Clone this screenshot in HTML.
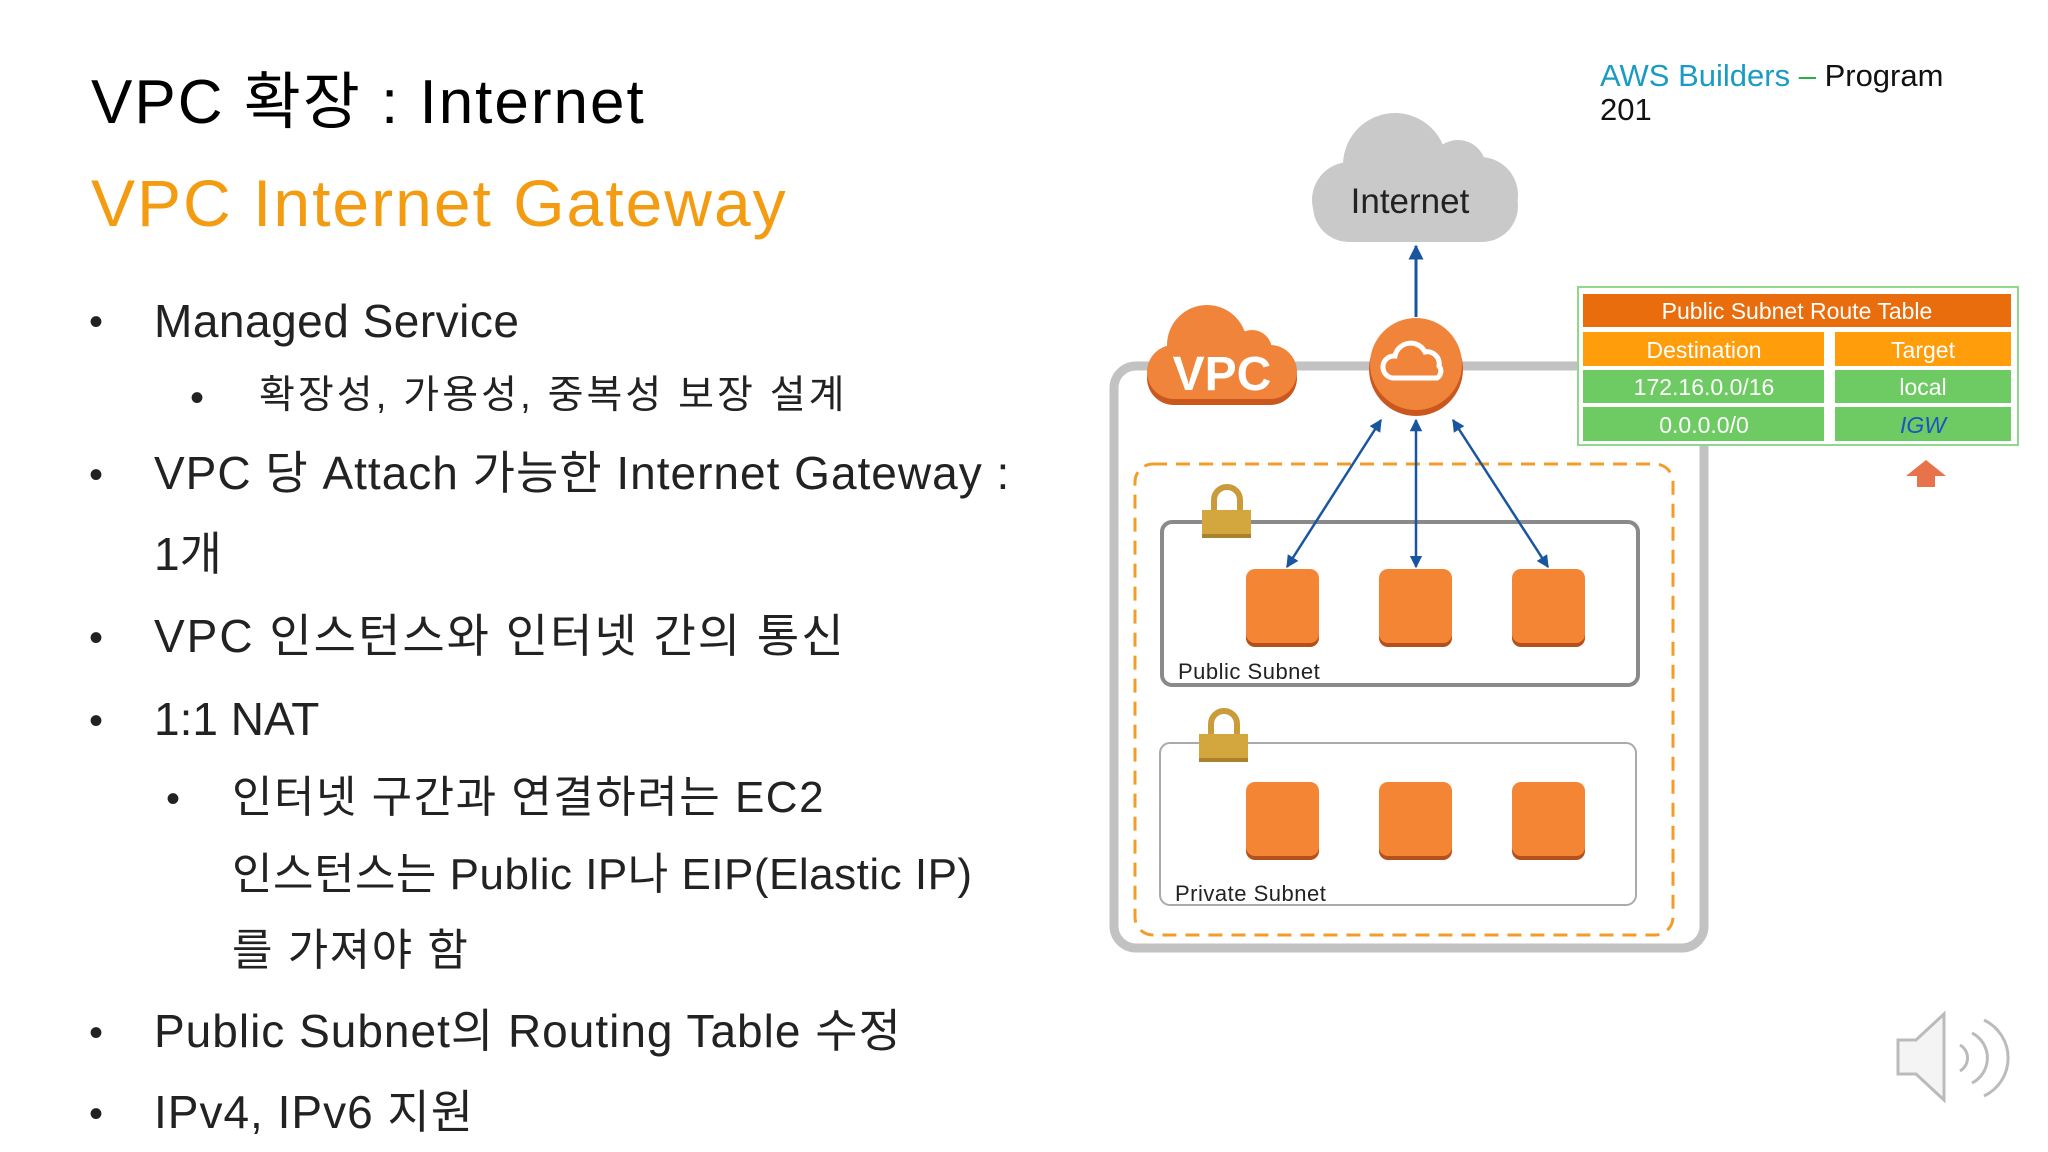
<!DOCTYPE html>
<html><head><meta charset="utf-8"><style>
body{margin:0;width:2048px;height:1152px;background:#fff;overflow:hidden;position:relative;font-family:"Liberation Sans","Noto Sans CJK KR",sans-serif;}
.t{position:absolute;white-space:nowrap;line-height:1;}
.b{position:absolute;font-size:40px;line-height:1;color:#222;}
</style></head><body>
<div class="t" style="left:91px;top:72px;font-size:62px;color:#000;letter-spacing:2px;">VPC 확장 : Internet</div>
<div class="t" style="left:91px;top:170px;font-size:66px;color:#f39c12;letter-spacing:2px;">VPC Internet Gateway</div>
<div class="t" style="left:1600px;top:60px;font-size:31px;color:#1a9bc4;">AWS Builders <span style="color:#2ab04a">–</span> <span style="color:#111">Program</span></div>
<div class="t" style="left:1600px;top:94px;font-size:31px;color:#111;">201</div>

<div class="b" style="left:89px;top:302px;">•</div>
<div class="t" style="left:154px;top:298px;font-size:46px;color:#222;letter-spacing:0.5px;">Managed Service</div>
<div class="b" style="left:190px;top:378px;">•</div>
<div class="t" style="left:259px;top:376px;font-size:39px;color:#222;letter-spacing:3px;">확장성, 가용성, 중복성 보장 설계</div>
<div class="b" style="left:89px;top:455px;">•</div>
<div class="t" style="left:154px;top:450px;font-size:46px;color:#222;letter-spacing:1px;">VPC 당 Attach 가능한 Internet Gateway :</div>
<div class="t" style="left:154px;top:531px;font-size:46px;color:#222;">1개</div>
<div class="b" style="left:89px;top:618px;">•</div>
<div class="t" style="left:154px;top:613px;font-size:46px;color:#222;letter-spacing:2px;">VPC 인스턴스와 인터넷 간의 통신</div>
<div class="b" style="left:89px;top:701px;">•</div>
<div class="t" style="left:154px;top:696px;font-size:46px;color:#222;">1:1 NAT</div>
<div class="b" style="left:166px;top:779px;">•</div>
<div class="t" style="left:232px;top:776px;font-size:44px;color:#222;letter-spacing:1.5px;">인터넷 구간과 연결하려는 EC2</div>
<div class="t" style="left:232px;top:853px;font-size:44px;color:#222;letter-spacing:0.5px;">인스턴스는 Public IP나 EIP(Elastic IP)</div>
<div class="t" style="left:232px;top:929px;font-size:44px;color:#222;letter-spacing:1.5px;">를 가져야 함</div>
<div class="b" style="left:89px;top:1013px;">•</div>
<div class="t" style="left:154px;top:1008px;font-size:46px;color:#222;letter-spacing:1px;">Public Subnet의 Routing Table 수정</div>
<div class="b" style="left:89px;top:1094px;">•</div>
<div class="t" style="left:154px;top:1089px;font-size:46px;color:#222;letter-spacing:1px;">IPv4, IPv6 지원</div>

<svg width="2048" height="1152" style="position:absolute;left:0;top:0" xmlns="http://www.w3.org/2000/svg">
<defs>
<marker id="a" viewBox="0 0 10 10" refX="9" refY="5" markerWidth="5" markerHeight="5" orient="auto-start-reverse"><path d="M0,0L10,5L0,10z" fill="#1a56a0"/></marker>
</defs>
<g fill="#c9c9c9">
<rect x="1313" y="170" width="205" height="72" rx="36"/>
<circle cx="1395" cy="165" r="52"/>
<circle cx="1458" cy="168" r="28"/>
<circle cx="1480" cy="195" r="38"/>
<circle cx="1350" cy="200" r="38"/>
</g>
<text x="1410" y="213" font-size="35" text-anchor="middle" fill="#222" font-family="Liberation Sans,sans-serif">Internet</text>
<line x1="1416" y1="317" x2="1416" y2="246" stroke="#1a56a0" stroke-width="3" marker-end="url(#a)"/>
<rect x="1114" y="366" width="590" height="582" rx="22" fill="none" stroke="#c2c2c2" stroke-width="9"/>
<rect x="1135" y="464" width="538" height="471" rx="18" fill="none" stroke="#f39c2a" stroke-width="3" stroke-dasharray="14,9"/>
<g fill="#c9581f" transform="translate(0,6)">
<rect x="1147" y="345" width="150" height="54" rx="27"/><circle cx="1207" cy="345" r="40"/><circle cx="1252" cy="350" r="20"/>
</g>
<g fill="#f0843a">
<rect x="1147" y="345" width="150" height="54" rx="27"/><circle cx="1207" cy="345" r="40"/><circle cx="1252" cy="350" r="20"/>
</g>
<text x="1222" y="390" font-size="48" font-weight="bold" text-anchor="middle" fill="#fff" font-family="Liberation Sans,sans-serif">VPC</text>
<circle cx="1416" cy="369" r="47" fill="#c9581f"/>
<circle cx="1416" cy="364" r="46" fill="#f0843a"/>
<path d="M1393,378 a11,11 0 0 1 2,-22 a16,16 0 0 1 30,-4 a12,12 0 0 1 14,14 a8,8 0 0 1 -2,12 z" fill="none" stroke="#fff" stroke-width="5"/>
<rect x="1578" y="287" width="440" height="158" fill="#fff" stroke="#8fd88c" stroke-width="2"/>
<rect x="1583" y="294" width="428" height="33" fill="#e96d0c"/>
<text x="1797" y="319" font-size="23" text-anchor="middle" fill="#fff">Public Subnet Route Table</text>
<rect x="1583" y="332" width="241" height="34" fill="#ff9d0b"/>
<rect x="1835" y="332" width="176" height="34" fill="#ff9d0b"/>
<text x="1704" y="358" font-size="23" text-anchor="middle" fill="#fff">Destination</text>
<text x="1923" y="358" font-size="23" text-anchor="middle" fill="#fff">Target</text>
<rect x="1583" y="370" width="241" height="33" fill="#6ecb63"/>
<rect x="1835" y="370" width="176" height="33" fill="#6ecb63"/>
<text x="1704" y="395" font-size="23" text-anchor="middle" fill="#fff">172.16.0.0/16</text>
<text x="1923" y="395" font-size="23" text-anchor="middle" fill="#fff">local</text>
<rect x="1583" y="407" width="241" height="34" fill="#6ecb63"/>
<rect x="1835" y="407" width="176" height="34" fill="#6ecb63"/>
<text x="1704" y="433" font-size="23" text-anchor="middle" fill="#fff">0.0.0.0/0</text>
<text x="1923" y="433" font-size="23" text-anchor="middle" fill="#1a56c0" font-style="italic">IGW</text>
<path d="M1926,460 L1946,476 L1935,476 L1935,487 L1917,487 L1917,476 L1906,476 z" fill="#e8734a"/>
<rect x="1162" y="522" width="476" height="163" rx="10" fill="#fff" stroke="#8a8a8a" stroke-width="4"/>
<rect x="1160" y="743" width="476" height="162" rx="10" fill="#fff" stroke="#aaa" stroke-width="2"/>
<g>
<path d="M1214,510 v-10 a13,13 0 0 1 26,0 v10" fill="none" stroke="#c99b3a" stroke-width="6"/>
<rect x="1202" y="510" width="49" height="28" fill="#d4a63e"/><rect x="1202" y="534" width="49" height="4" fill="#a8822c"/>
<path d="M1211,734 v-10 a13,13 0 0 1 26,0 v10" fill="none" stroke="#c99b3a" stroke-width="6"/>
<rect x="1199" y="734" width="49" height="28" fill="#d4a63e"/><rect x="1199" y="758" width="49" height="4" fill="#a8822c"/>
</g>
<g fill="#b5501a">
<rect x="1246" y="573" width="73" height="74" rx="9"/><rect x="1379" y="573" width="73" height="74" rx="9"/><rect x="1512" y="573" width="73" height="74" rx="9"/>
<rect x="1246" y="786" width="73" height="74" rx="9"/><rect x="1379" y="786" width="73" height="74" rx="9"/><rect x="1512" y="786" width="73" height="74" rx="9"/>
</g>
<g fill="#f38535">
<rect x="1246" y="569" width="73" height="74" rx="9"/><rect x="1379" y="569" width="73" height="74" rx="9"/><rect x="1512" y="569" width="73" height="74" rx="9"/>
<rect x="1246" y="782" width="73" height="74" rx="9"/><rect x="1379" y="782" width="73" height="74" rx="9"/><rect x="1512" y="782" width="73" height="74" rx="9"/>
</g>
<text x="1178" y="679" font-size="22" fill="#222" letter-spacing="0.5">Public Subnet</text>
<text x="1175" y="901" font-size="22" fill="#222" letter-spacing="0.5">Private Subnet</text>
<g stroke="#1a56a0" stroke-width="2.5" marker-start="url(#a)" marker-end="url(#a)">
<line x1="1381" y1="420" x2="1287" y2="567"/>
<line x1="1416" y1="420" x2="1416" y2="567"/>
<line x1="1453" y1="420" x2="1548" y2="567"/>
</g>
<g stroke="#bbb" stroke-width="3" fill="#f4f4f4">
<path d="M1898,1040 h18 l28,-26 v86 l-28,-26 h-18 z"/>
<path d="M1960,1045 a15,15 0 0 1 0,26" fill="none"/>
<path d="M1972,1033 a28,28 0 0 1 0,50" fill="none"/>
<path d="M1984,1020 a42,42 0 0 1 0,76" fill="none"/>
</g>
</svg>
</body></html>
